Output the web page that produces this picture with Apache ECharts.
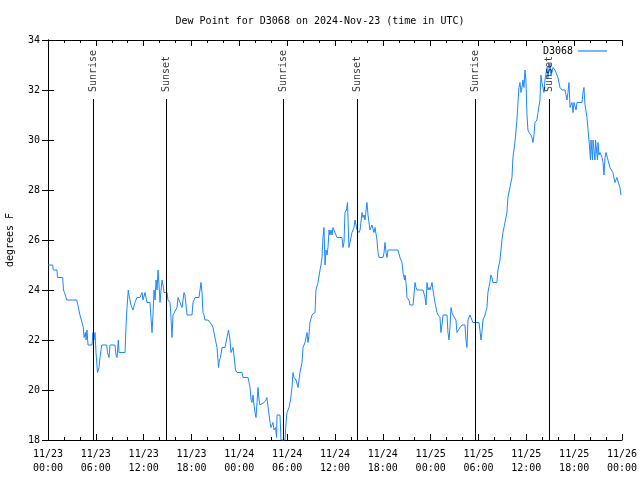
<!DOCTYPE html>
<html>
<head>
<meta charset="utf-8">
<script src="https://cdn.jsdelivr.net/npm/echarts@6/dist/echarts.min.js"></script>
<style>html,body{margin:0;padding:0;background:#fff}#c{width:640px;height:480px}</style>
</head>
<body>
<div id="c"></div>
<script>
// hours since 2024-11-23 00:00 UTC
var hours = [0.00,0.59,0.66,1.13,1.19,1.84,1.94,2.07,2.35,3.60,3.68,4.01,4.43,4.52,4.70,4.77,4.89,5.02,5.52,5.64,5.77,5.90,6.02,6.21,6.40,6.52,6.74,7.36,7.46,7.65,7.78,8.40,8.53,8.66,8.82,8.91,9.03,9.66,9.78,9.91,10.07,10.16,10.41,10.66,10.91,11.16,11.54,11.79,11.92,12.17,12.42,12.79,12.92,13.05,13.17,13.30,13.43,13.55,13.68,13.80,13.93,14.05,14.18,14.30,14.43,14.55,14.93,15.05,15.30,15.43,15.55,15.68,15.93,16.18,16.31,16.56,16.81,17.06,17.18,17.44,18.06,18.19,18.44,18.94,19.07,19.19,19.32,19.44,19.57,19.69,20.07,20.32,20.57,20.70,20.95,21.07,21.20,21.39,21.51,21.64,21.83,22.20,22.45,22.64,22.83,22.95,23.21,23.39,23.52,23.71,24.34,24.46,25.09,25.22,25.34,25.47,25.59,25.72,25.84,25.97,26.09,26.22,26.34,26.47,26.59,26.84,27.09,27.34,27.46,27.66,27.85,27.97,28.10,28.22,28.35,28.54,28.67,28.73,29.10,29.23,29.73,29.86,29.98,30.23,30.42,30.61,30.73,30.86,31.11,31.36,31.61,31.86,31.99,32.24,32.49,32.61,32.74,32.86,33.11,33.49,33.61,33.87,34.12,34.24,34.37,34.49,34.62,34.75,34.87,35.00,35.12,35.25,35.37,35.50,35.62,35.75,36.00,36.25,36.88,37.00,37.13,37.25,37.44,37.57,37.75,37.88,38.13,38.38,38.51,38.76,39.01,39.14,39.39,39.51,39.64,39.76,40.01,40.14,40.39,40.64,40.89,41.02,41.27,41.39,41.52,42.02,42.15,42.27,42.40,42.52,42.65,43.90,44.15,44.40,44.53,44.72,44.78,44.91,45.03,45.28,45.41,45.79,46.04,46.16,46.29,47.04,47.29,47.42,47.54,47.67,47.79,47.92,48.17,48.29,48.54,48.79,48.92,49.17,49.29,49.42,49.55,50.05,50.17,50.30,50.42,50.55,50.67,50.80,51.17,51.30,51.68,51.93,52.30,52.43,52.55,52.68,52.93,53.18,53.30,54.06,54.18,54.31,54.43,54.56,54.81,55.06,55.18,55.43,55.56,55.69,55.81,56.31,56.44,56.69,56.94,57.07,57.32,57.57,57.69,57.94,58.20,58.32,58.57,58.82,58.95,59.07,59.20,59.33,59.45,59.58,59.70,59.83,59.95,60.08,60.20,60.33,60.58,60.71,60.83,60.96,61.08,61.33,61.46,61.71,61.83,61.96,62.09,62.21,62.34,62.59,62.71,62.96,63.09,63.21,63.34,63.59,63.84,63.97,64.22,64.47,64.85,65.10,65.22,65.35,65.48,65.73,65.85,65.98,66.23,66.36,66.98,67.11,67.23,67.36,67.61,67.74,67.86,68.05,68.11,68.30,68.36,68.61,68.68,68.93,68.99,69.11,69.24,69.49,69.62,69.74,69.87,69.99,70.24,70.49,70.74,70.86,71.11,71.36,71.49,71.74,71.87];
var dewPoint = [25.0,25.0,24.8,24.8,24.5,24.5,24.0,23.9,23.6,23.6,23.5,23.0,22.5,22.1,22.3,22.0,22.4,21.8,21.8,22.3,22.0,22.3,21.5,20.7,20.9,21.3,21.8,21.8,21.5,21.3,21.8,21.8,21.4,21.3,22.0,21.5,21.5,21.5,22.5,23.3,24.0,23.8,23.4,23.2,23.5,23.7,23.7,23.9,23.6,23.9,23.5,23.5,22.9,22.3,23.0,24.0,23.6,24.4,24.0,24.8,24.2,23.5,24.0,24.4,24.2,23.9,23.9,23.6,23.5,22.9,22.1,23.0,23.0,23.3,23.7,23.7,23.3,23.9,23.8,23.0,23.0,23.5,23.7,23.7,24.0,24.3,23.9,23.1,23.0,22.8,22.8,22.7,22.6,22.5,22.5,21.9,21.7,20.9,21.2,21.3,21.7,21.7,22.1,22.4,22.0,21.5,21.7,21.2,20.8,20.7,20.7,20.5,20.5,20.3,20.1,19.6,19.5,19.8,19.4,19.1,18.9,19.5,20.1,19.6,19.4,19.4,19.5,19.6,19.7,19.7,18.7,18.5,18.6,18.7,18.4,18.5,18.1,19.0,19.0,18.0,18.0,18.7,19.1,19.3,19.6,20.1,20.7,20.5,20.4,20.1,20.7,21.1,21.7,21.9,22.3,21.9,22.2,22.7,23.0,23.1,24.0,24.3,24.8,25.0,25.3,26.1,26.5,25.0,25.6,25.4,25.7,26.4,26.2,26.4,26.2,26.5,26.5,26.1,26.1,25.7,25.9,27.1,27.2,27.5,25.7,25.9,26.3,26.5,26.8,26.4,26.3,26.4,27.1,26.9,27.0,26.8,27.5,27.0,26.4,26.6,26.3,26.5,26.0,25.5,25.3,25.3,25.5,25.9,25.5,25.3,25.6,25.6,25.3,25.1,24.7,24.4,24.6,24.3,23.7,23.6,23.4,23.4,24.3,24.1,24.0,24.0,23.7,23.4,24.3,24.0,24.1,24.0,24.3,24.0,23.5,23.1,23.0,22.9,22.3,22.6,23.0,23.0,22.3,22.0,22.5,23.3,23.1,23.0,22.8,22.3,22.5,22.6,22.6,22.0,21.7,22.8,23.0,23.0,22.7,22.7,22.4,22.0,22.3,22.8,23.0,23.3,23.9,24.3,24.6,24.5,24.3,24.3,24.8,25.2,26.0,26.3,26.7,27.1,27.7,28.1,28.5,29.3,29.9,30.8,31.5,32.1,32.3,31.9,32.1,32.4,32.1,32.8,32.4,31.0,30.4,30.3,30.2,30.1,29.9,30.2,30.7,30.8,31.1,31.6,32.6,32.3,32.1,31.9,32.4,32.9,32.5,33.1,32.6,32.7,32.9,32.8,32.6,32.5,32.1,32.0,32.0,31.6,31.9,32.3,31.3,31.5,31.1,31.5,31.2,31.5,31.5,31.9,32.1,31.4,30.9,30.4,30.0,29.2,30.0,29.2,30.0,29.2,30.0,29.2,29.9,29.4,29.5,29.3,29.1,28.6,29.3,29.5,29.2,28.9,28.9,28.7,28.3,28.5,28.5,28.1,27.8];
var sunTimes = [5.64, 14.84, 29.52, 38.80, 53.60, 62.88];
var sunNames = ["Sunrise", "Sunset", "Sunrise", "Sunset", "Sunrise", "Sunset"];
var xTickLabels = ["11/23\n00:00","11/23\n06:00","11/23\n12:00","11/23\n18:00","11/24\n00:00","11/24\n06:00","11/24\n12:00","11/24\n18:00","11/25\n00:00","11/25\n06:00","11/25\n12:00","11/25\n18:00","11/26\n00:00"];
var seriesName = "D3068";
var titleText = "Dew Point for D3068 on 2024-Nov-23 (time in UTC)";
var yName = "degrees F";

var FONT = "DejaVu Sans Mono";
var sunLineTop = 31.64;
var sunLabelY = 31.88;

var chart = echarts.init(document.getElementById('c'), null, {renderer: 'canvas'});
var lineData = hours.map(function (h, i) { return [h, dewPoint[i]]; });

var axisCommon = {
  axisLine: {show: true, lineStyle: {color: '#000', width: 1}},
  axisTick: {show: true, inside: true, length: 6, lineStyle: {color: '#000'}},
  splitLine: {show: false}
};

var option = {
  animation: false,
  backgroundColor: '#fff',
  title: {
    text: titleText, left: 'center', top: 11,
    textStyle: {fontFamily: FONT, fontSize: 10, fontWeight: 'normal', color: '#000'}
  },
  legend: {
    data: [seriesName], right: 28, top: 41, align: 'right',
    icon: 'rect', itemWidth: 29, itemHeight: 1.2,
    textStyle: {fontFamily: FONT, fontSize: 10, color: '#000'}
  },
  grid: {left: 48, top: 40, width: 574, height: 400, containLabel: false, outerBoundsMode: 'none'},
  xAxis: [
    Object.assign({}, axisCommon, {
      type: 'value', min: 0, max: 72, interval: 6, position: 'bottom',
      minorTick: {show: true, splitNumber: 3, length: 3, lineStyle: {color: '#000'}},
      axisLabel: {
        fontFamily: FONT, fontSize: 10, color: '#000', lineHeight: 14, margin: 7,
        formatter: function (v) { return xTickLabels[Math.round(v / 6)] || ''; }
      }
    }),
    Object.assign({}, axisCommon, {
      type: 'value', min: 0, max: 72, interval: 6, position: 'top',
      minorTick: {show: true, splitNumber: 3, length: 3, lineStyle: {color: '#000'}},
      axisLabel: {show: false}
    })
  ],
  yAxis: [
    Object.assign({}, axisCommon, {
      type: 'value', min: 18, max: 34, interval: 2, position: 'left',
      name: yName, nameLocation: 'middle', nameGap: 33, nameRotate: 90,
      nameTextStyle: {fontFamily: FONT, fontSize: 10, color: '#000'},
      axisLabel: {fontFamily: FONT, fontSize: 10, color: '#000', margin: 8}
    }),
    Object.assign({}, axisCommon, {
      type: 'value', min: 18, max: 34, interval: 2, position: 'right',
      axisLabel: {show: false}
    })
  ],
  series: [
    {
      name: seriesName, type: 'line', data: lineData,
      showSymbol: false, symbol: 'none',
      lineStyle: {color: '#1c86ff', width: 1},
      itemStyle: {color: '#1c86ff'},
      z: 3,
      markLine: {
        silent: true, symbol: ['none', 'none'],
        lineStyle: {color: '#000', width: 1, type: 'solid'},
        label: {show: false},
        data: sunTimes.map(function (t) {
          return [{coord: [t, sunLineTop]}, {coord: [t, 18]}];
        })
      }
    },
    {
      name: 'sunLabels', type: 'scatter', symbolSize: 0, silent: true,
      data: sunTimes.map(function (t, i) { return [t, sunLabelY, sunNames[i]]; }),
      label: {
        show: true, position: 'inside', rotate: 90, align: 'left', verticalAlign: 'middle',
        offset: [1, 0],
        fontFamily: FONT, fontSize: 10, color: '#000',
        formatter: function (p) { return p.data[2]; }
      },
      z: 4
    }
  ]
};
chart.setOption(option);
</script>
</body>
</html>
